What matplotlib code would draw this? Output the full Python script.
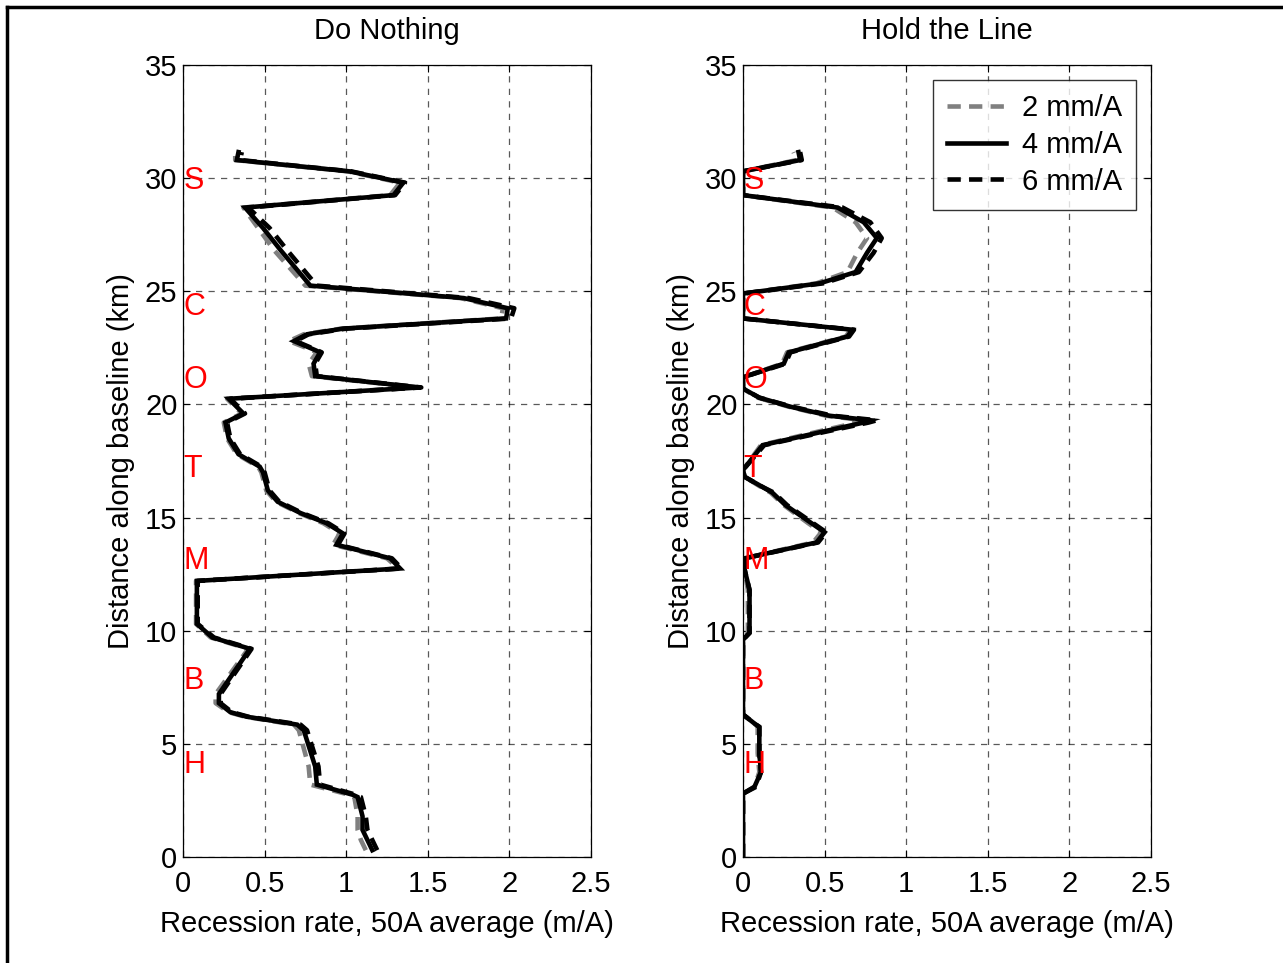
import matplotlib
matplotlib.use("Agg")
import matplotlib.pyplot as plt
from matplotlib.lines import Line2D

plt.rcParams['font.family'] = ['Liberation Sans', 'DejaVu Sans']

# ---------------- data ----------------
panel_titles = ["Do Nothing", "Hold the Line"]
series_labels = ["2 mm/A", "4 mm/A", "6 mm/A"]
site_letters = ["S", "C", "O", "T", "M", "B", "H"]
site_km = [29.87, 24.3, 21.1, 17.15, 13.1, 7.78, 4.07]

# Do Nothing
dn_km = [0.3, 0.75, 1.2, 1.8, 2.65, 2.75, 3.2, 4.0, 5.6, 5.85, 6.2, 6.4, 6.8, 7.2,
         9.2, 9.7, 10.3, 12.2, 12.75, 13.2, 13.8, 14.3, 14.75, 15.2, 15.7, 16.2,
         17.0, 17.25, 17.8, 18.5, 19.2, 19.6, 20.25, 20.75, 21.25, 21.8, 22.3,
         22.4, 22.8, 23.1, 23.35, 23.8, 24.25, 24.7, 25.25, 26.8, 27.8, 28.7,
         29.25, 29.8, 30.3, 30.8, 31.15]
dn_2mm = [1.12, 1.09, 1.07, 1.07, 1.05, 1.02, 0.78, 0.77, 0.71, 0.68, 0.38, 0.28,
          0.20, 0.20, 0.40, 0.17, 0.08, 0.08, 1.32, 1.25, 0.92, 0.96, 0.86, 0.71,
          0.57, 0.51, 0.48, 0.46, 0.33, 0.27, 0.25, 0.36, 0.27, 1.44, 0.79, 0.77,
          0.82, 0.79, 0.65, 0.74, 0.97, 1.95, 1.96, 1.70, 0.75, 0.56, 0.46, 0.37,
          1.27, 1.33, 1.01, 0.32, 0.32]
dn_4mm = [1.16, 1.13, 1.10, 1.10, 1.07, 1.04, 0.82, 0.81, 0.74, 0.70, 0.39, 0.29,
          0.22, 0.22, 0.41, 0.18, 0.085, 0.085, 1.33, 1.27, 0.94, 0.98, 0.88, 0.72,
          0.58, 0.52, 0.49, 0.47, 0.34, 0.28, 0.26, 0.37, 0.28, 1.45, 0.81, 0.80,
          0.84, 0.81, 0.68, 0.76, 0.98, 1.98, 1.99, 1.72, 0.78, 0.60, 0.49, 0.38,
          1.29, 1.35, 1.02, 0.33, 0.34]
dn_6mm = [1.19, 1.16, 1.13, 1.12, 1.09, 1.06, 0.84, 0.83, 0.76, 0.72, 0.40, 0.30,
          0.23, 0.23, 0.42, 0.19, 0.09, 0.09, 1.34, 1.28, 0.95, 0.99, 0.89, 0.73,
          0.59, 0.53, 0.50, 0.48, 0.35, 0.29, 0.27, 0.38, 0.29, 1.46, 0.82, 0.81,
          0.85, 0.82, 0.69, 0.77, 1.00, 2.01, 2.03, 1.75, 0.82, 0.64, 0.53, 0.40,
          1.30, 1.36, 1.03, 0.35, 0.36]

# Hold the Line
hl_km = [0.0, 2.8, 3.1, 3.75, 4.6, 5.75, 5.9, 6.3, 9.6, 9.9, 11.8, 12.7, 13.2,
         13.9, 14.35, 14.75, 15.55, 16.1, 16.35, 16.8, 17.1, 18.2, 18.8, 19.2,
         19.3, 19.5, 19.9, 20.3, 20.7, 21.2, 21.8, 22.3, 23.0, 23.3, 23.8, 24.9,
         25.35, 25.85, 26.7, 27.35, 28.05, 28.7, 29.25, 30.3, 30.8, 31.15]
hl_2mm = [0.0, 0.0, 0.07, 0.10, 0.09, 0.09, 0.07, 0.0, 0.0, 0.03, 0.03, 0.01,
          0.01, 0.43, 0.48, 0.40, 0.25, 0.17, 0.11, 0.01, 0.0, 0.11, 0.46, 0.70,
          0.74, 0.51, 0.28, 0.09, 0.0, 0.0, 0.24, 0.27, 0.63, 0.66, 0.0, 0.0,
          0.45, 0.64, 0.70, 0.76, 0.69, 0.55, 0.0, 0.0, 0.33, 0.31]
hl_4mm = [0.0, 0.0, 0.07, 0.11, 0.10, 0.10, 0.07, 0.0, 0.0, 0.04, 0.04, 0.01,
          0.01, 0.45, 0.50, 0.42, 0.26, 0.18, 0.12, 0.01, 0.0, 0.12, 0.49, 0.74,
          0.78, 0.53, 0.29, 0.10, 0.0, 0.0, 0.25, 0.28, 0.64, 0.67, 0.0, 0.0,
          0.47, 0.69, 0.76, 0.82, 0.74, 0.58, 0.0, 0.0, 0.35, 0.34]
hl_6mm = [0.0, 0.0, 0.08, 0.11, 0.10, 0.10, 0.07, 0.0, 0.0, 0.04, 0.04, 0.01,
          0.01, 0.46, 0.51, 0.43, 0.27, 0.19, 0.12, 0.01, 0.0, 0.13, 0.51, 0.77,
          0.82, 0.55, 0.30, 0.10, 0.0, 0.0, 0.26, 0.29, 0.65, 0.68, 0.0, 0.0,
          0.49, 0.71, 0.80, 0.85, 0.78, 0.61, 0.0, 0.0, 0.36, 0.35]

panels = [
    (dn_km, [dn_2mm, dn_4mm, dn_6mm]),
    (hl_km, [hl_2mm, hl_4mm, hl_6mm]),
]

xticks = [0, 0.5, 1, 1.5, 2, 2.5]
xtick_labels = ["0", "0.5", "1", "1.5", "2", "2.5"]
yticks = [0, 5, 10, 15, 20, 25, 30, 35]

styles = [
    dict(color="#808080", linestyle=(0, (2.9, 1.8)), linewidth=3.3),
    dict(color="black", linestyle="-", linewidth=3.3),
    dict(color="black", linestyle=(0, (2.9, 1.8)), linewidth=3.3),
]

FS = 21

fig = plt.figure(figsize=(12.83, 9.63), dpi=100)
W, H = 1283, 963
ax_left_px = [183, 743]
for i, (km, series) in enumerate(panels):
    ax = fig.add_axes([ax_left_px[i] / W, (H - 857) / H, 408 / W, 792 / H])
    for vals, st, lab in zip(series, styles, series_labels):
        ax.plot(vals, km, label=lab, solid_joinstyle='miter', dash_capstyle='butt', **st)
    ax.set_xlim(0, 2.5)
    ax.set_ylim(0, 35)
    ax.set_xticks(xticks)
    ax.set_xticklabels(xtick_labels)
    ax.set_yticks(yticks)
    ax.grid(True, color="black", linestyle=(0, (5, 5)), linewidth=0.9, alpha=0.65)
    ax.tick_params(direction="in", length=5, width=0.8, top=True, right=True,
                   labelsize=FS)
    ax.tick_params(axis="x", pad=9)
    ax.tick_params(axis="y", pad=4)
    for sp in ax.spines.values():
        sp.set_linewidth(0.9)
    ax.set_title(panel_titles[i], fontsize=FS, pad=19)
    ax.set_xlabel("Recession rate, 50A average (m/A)", fontsize=FS, labelpad=9)
    ax.set_ylabel("Distance along baseline (km)", fontsize=FS, labelpad=7)
    for letter, y in zip(site_letters, site_km):
        ax.text(0.003, y, letter, color="red", fontsize=FS + 1, ha="left", va="center")
    if i == 1:
        handles = [Line2D([], [], **st) for st in styles]
        leg = ax.legend(handles, series_labels, loc="upper right", fontsize=FS,
                        frameon=True, fancybox=False, edgecolor="black",
                        handlelength=2.0, handletextpad=0.55, labelspacing=0.3,
                        borderaxespad=0.5, borderpad=0.5)
        leg.get_frame().set_linewidth(1.0)

# outer frame (left and top edges visible)
fig.add_artist(Line2D([7 / W, 7 / W], [0, 1 - 7.5 / H], color="black", linewidth=2.5,
                      transform=fig.transFigure))
fig.add_artist(Line2D([7 / W, 1], [1 - 7.5 / H, 1 - 7.5 / H], color="black", linewidth=2.5,
                      transform=fig.transFigure))

fig.savefig("out.png", dpi=100)
